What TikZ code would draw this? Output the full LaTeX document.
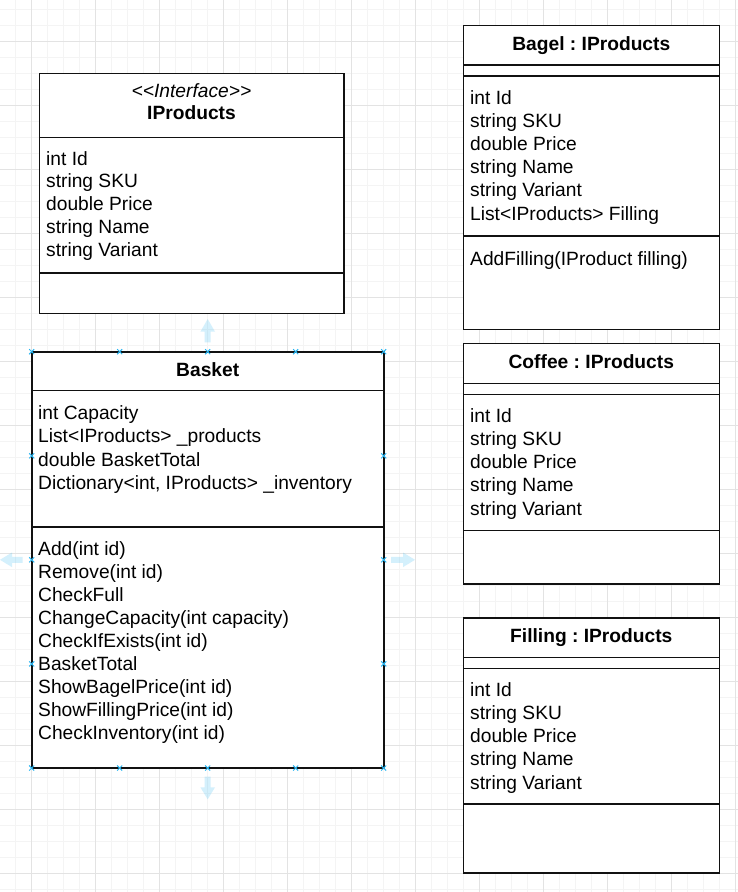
\documentclass[tikz,border=0pt]{standalone}
\usepackage{fontspec}
\newfontfamily\uml{Liberation Sans}
\frenchspacing
\definecolor{gridminor}{HTML}{F4F4F4}
\definecolor{gridmajor}{HTML}{E3E3E3}
\definecolor{hint}{HTML}{29B6F2}
\definecolor{boxline}{HTML}{111111}
\tikzset{
  classbox/.style={draw=boxline, line width=1.6pt, fill=white, anchor=north west, inner sep=0pt, outer sep=0pt},
  sepline/.style={draw=boxline, line width=1.6pt},
  txt/.style={anchor=base west, inner sep=0pt, font=\uml\frenchspacing\fontsize{19.2}{23}\selectfont},
  head/.style={anchor=base, inner sep=0pt, font=\uml\frenchspacing\bfseries\fontsize{19.2}{23}\selectfont},
  stereo/.style={anchor=base, inner sep=0pt, font=\uml\itshape\fontsize{19.2}{23}\selectfont},
  hintx/.style={draw=hint, line width=1pt},
  hintarrow/.style={fill=hint, fill opacity=0.2, draw=none},
}
\begin{document}
\begin{tikzpicture}[x=1pt, y=-1pt]
\useasboundingbox (0,0) rectangle (738,892);
\fill[white] (0,0) rectangle (738,892);
% grid
\foreach \k in {0,...,45} {
  \draw[gridminor, line width=1pt] (15.7+16*\k,0) -- (15.7+16*\k,892);
}
\foreach \k in {0,...,55} {
  \draw[gridminor, line width=1pt] (0,9.7+16*\k) -- (738,9.7+16*\k);
}
\foreach \k in {0,...,11} {
  \draw[gridmajor, line width=1pt] (31.7+64*\k,0) -- (31.7+64*\k,892);
}
\foreach \k in {0,...,13} {
  \draw[gridmajor, line width=1pt] (0,41.7+64*\k) -- (738,41.7+64*\k);
}

% ---------- IProducts ----------
\node[classbox, minimum width=304.4pt, minimum height=240pt] (iprod) at (39.3,73.3) {};
\draw[sepline] (39.3,137.3) -- (343.7,137.3);
\draw[sepline] (39.3,272.7) -- (343.7,272.7);
\node[stereo] (iprod-st) at (191.5,97) {<<Interface>>};
\node[head] (iprod-h) at (191.5,119.3) {IProducts};
\foreach \t [count=\i] in {int Id, string SKU, double Price, string Name, string Variant} {
  \node[txt] (iprod-a\i) at (46,165+22.8*\i-22.8) {\t};
}

% ---------- Basket ----------
\node[classbox, minimum width=352pt, minimum height=416.3pt] (basket) at (31.7,351.7) {};
\draw[sepline] (31.7,390.3) -- (383.7,390.3);
\draw[sepline] (31.7,527) -- (383.7,527);
\node[head] (basket-h) at (207.7,376) {Basket};
\foreach \t [count=\i] in {int Capacity, List<IProducts> \_products, double BasketTotal, {Dictionary<int, IProducts> \_inventory}} {
  \node[txt] (basket-a\i) at (38,419+23.6*\i-23.6) {\t};
}
\foreach \t [count=\i] in {Add(int id), Remove(int id), CheckFull, ChangeCapacity(int capacity), CheckIfExists(int id), BasketTotal, ShowBagelPrice(int id), ShowFillingPrice(int id), CheckInventory(int id)} {
  \node[txt] (basket-m\i) at (38,555+23*\i-23) {\t};
}

% ---------- Bagel ----------
\node[classbox, minimum width=256pt, minimum height=304pt] (bagel) at (463.3,25.3) {};
\draw[sepline] (463.3,65) -- (719.3,65);
\draw[sepline] (463.3,76) -- (719.3,76);
\draw[sepline] (463.3,235.7) -- (719.3,235.7);
\node[head] (bagel-h) at (591.3,50) {Bagel : IProducts};
\foreach \t [count=\i] in {int Id, string SKU, double Price, string Name, string Variant, List<IProducts> Filling} {
  \node[txt] (bagel-a\i) at (470,104+23.2*\i-23.2) {\t};
}
\node[txt] (bagel-m1) at (470,265) {AddFilling(IProduct filling)};

% ---------- Coffee ----------
\node[classbox, minimum width=256pt, minimum height=240.4pt] (coffee) at (463.3,343.6) {};
\draw[sepline] (463.3,383.3) -- (719.3,383.3);
\draw[sepline] (463.3,394.3) -- (719.3,394.3);
\draw[sepline] (463.3,530.3) -- (719.3,530.3);
\node[head] (coffee-h) at (591.3,368.3) {Coffee : IProducts};
\foreach \t [count=\i] in {int Id, string SKU, double Price, string Name, string Variant} {
  \node[txt] (coffee-a\i) at (470,422+23.25*\i-23.25) {\t};
}

% ---------- Filling ----------
\node[classbox, minimum width=256pt, minimum height=255.3pt] (filling) at (463.3,617.7) {};
\draw[sepline] (463.3,657.4) -- (719.3,657.4);
\draw[sepline] (463.3,668.4) -- (719.3,668.4);
\draw[sepline] (463.3,803.7) -- (719.3,803.7);
\node[head] (filling-h) at (591.3,642.4) {Filling : IProducts};
\foreach \t [count=\i] in {int Id, string SKU, double Price, string Name, string Variant} {
  \node[txt] (filling-a\i) at (470,696+23.25*\i-23.25) {\t};
}

% ---------- selection hints ----------
\foreach \x in {31.7,119.7,207.7,295.7,383.7} {
  \foreach \y in {351.7,768} {
    \draw[hintx] (\x-2.5,\y-2.5) -- (\x+2.5,\y+2.5) (\x-2.5,\y+2.5) -- (\x+2.5,\y-2.5);
  }
}
\foreach \x in {31.7,383.7} {
  \foreach \y in {455.8,559.8,663.9} {
    \draw[hintx] (\x-2.5,\y-2.5) -- (\x+2.5,\y+2.5) (\x-2.5,\y+2.5) -- (\x+2.5,\y-2.5);
  }
}
% up
\fill[hintarrow] (207.7,319) -- (215,331.7) -- (210.7,331.7) -- (210.7,342.3) -- (204.7,342.3) -- (204.7,331.7) -- (200.4,331.7) -- cycle;
% down
\fill[hintarrow] (207.7,799.3) -- (215,787.3) -- (210.7,787.3) -- (210.7,776.7) -- (204.7,776.7) -- (204.7,787.3) -- (200.4,787.3) -- cycle;
% left
\fill[hintarrow] (0,559.8) -- (12,552.5) -- (12,556.8) -- (22.7,556.8) -- (22.7,562.8) -- (12,562.8) -- (12,567.1) -- cycle;
% right
\fill[hintarrow] (415,559.8) -- (403,552.5) -- (403,556.8) -- (391,556.8) -- (391,562.8) -- (403,562.8) -- (403,567.1) -- cycle;
\end{tikzpicture}
\end{document}
